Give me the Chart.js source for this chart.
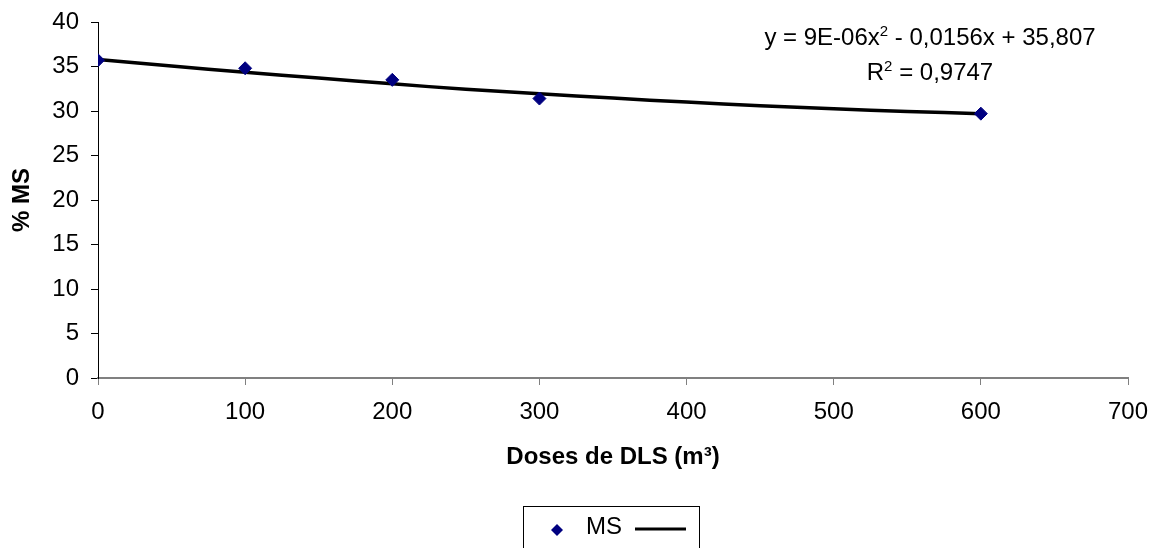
<!DOCTYPE html>
<html lang="pt">
<head>
    <meta charset="UTF-8">
    <title>% MS x Doses de DLS</title>
    <script src="https://cdn.jsdelivr.net/npm/chart.js"></script>
    <style>
        body { margin: 0; padding: 0; background: #fff; }
        .wrap { width: 1156px; height: 548px; }
    </style>
</head>
<body>
    <div class="wrap"><canvas id="myChart"></canvas></div>
    <script>
        // pontos observados (MS)
        const doses = [0, 100, 200, 300, 600];
        const msValues = [35.7, 34.8, 33.5, 31.4, 29.7];
        // linha de tendência
        const trendX = [0, 50, 100, 150, 200, 250, 300, 350, 400, 450, 500, 550, 600];
        const trendY = [35.8, 35.05, 34.35, 33.7, 33.05, 32.45, 31.95, 31.45, 31.0, 30.6, 30.25, 29.95, 29.7];
        // texto da equação: [normal, expoente, normal]
        const eqLine1 = ['y = 9E-06x', '2', ' - 0,0156x + 35,807'];
        const eqLine2 = ['R', '2', ' = 0,9747'];
        const legendLabel = 'MS';

        const font = '"Liberation Sans", Arial, sans-serif';

        // desenha texto com expoente, centrado em cx
        function drawSup(ctx, parts, cx, y) {
            ctx.font = '24px ' + font;
            const w0 = ctx.measureText(parts[0]).width;
            const w2 = ctx.measureText(parts[2]).width;
            ctx.font = '15px ' + font;
            const w1 = ctx.measureText(parts[1]).width;
            let x = cx - (w0 + w1 + w2) / 2;
            ctx.textAlign = 'left';
            ctx.textBaseline = 'alphabetic';
            ctx.font = '24px ' + font;
            ctx.fillText(parts[0], x, y);
            ctx.font = '15px ' + font;
            ctx.fillText(parts[1], x + w0, y - 9);
            ctx.font = '24px ' + font;
            ctx.fillText(parts[2], x + w0 + w1, y);
        }

        const extras = {
            id: 'extras',
            afterDraw(chart) {
                const ctx = chart.ctx;
                ctx.save();
                ctx.fillStyle = '#000';
                drawSup(ctx, eqLine1, 930, 45);
                drawSup(ctx, eqLine2, 930, 80);
                // legenda
                ctx.strokeStyle = '#000';
                ctx.lineWidth = 1;
                ctx.strokeRect(523.5, 506.5, 176, 60);
                ctx.fillStyle = '#000080';
                ctx.beginPath();
                ctx.moveTo(557, 524); ctx.lineTo(563, 530); ctx.lineTo(557, 536); ctx.lineTo(551, 530);
                ctx.closePath(); ctx.fill();
                ctx.fillStyle = '#000';
                ctx.font = '24px ' + font;
                ctx.textAlign = 'left';
                ctx.textBaseline = 'middle';
                ctx.fillText(legendLabel, 586, 527);
                ctx.strokeStyle = '#000';
                ctx.lineWidth = 3;
                ctx.beginPath();
                ctx.moveTo(635, 529); ctx.lineTo(686, 529);
                ctx.stroke();
                ctx.restore();
            }
        };

        new Chart(document.getElementById('myChart'), {
            type: 'scatter',
            data: {
                datasets: [{
                    label: legendLabel,
                    data: doses.map((x, i) => ({ x: x, y: msValues[i] })),
                    pointStyle: 'rectRot',
                    pointRadius: 6.5,
                    backgroundColor: '#000080',
                    borderColor: '#000080',
                    order: 1
                }, {
                    label: 'tendência',
                    type: 'line',
                    data: trendX.map((x, i) => ({ x: x, y: trendY[i] })),
                    borderColor: '#000',
                    borderWidth: 3.5,
                    pointRadius: 0,
                    tension: 0.4,
                    order: 2
                }]
            },
            options: {
                responsive: true,
                maintainAspectRatio: false,
                animation: false,
                layout: { padding: { top: 22, right: 28, bottom: 73, left: 0 } },
                plugins: { legend: { display: false }, tooltip: { enabled: false } },
                scales: {
                    x: {
                        type: 'linear', min: 0, max: 700,
                        ticks: { stepSize: 100, color: '#000', font: { family: font, size: 24 }, padding: 13 },
                        grid: { drawOnChartArea: false, tickLength: 7, color: '#808080' },
                        border: { color: '#808080', width: 2 },
                        title: { display: true, text: 'Doses de DLS (m³)', color: '#000',
                                 font: { family: font, size: 24, weight: 'bold' }, padding: { top: 0, bottom: 3 } },
                        afterFit(scale) {
                            scale.height = 97;
                            scale.paddingLeft = 0;
                            scale.paddingRight = 0;
                        }
                    },
                    y: {
                        min: 0, max: 40,
                        ticks: { stepSize: 5, color: '#000', font: { family: font, size: 24 }, padding: 12 },
                        grid: { drawOnChartArea: false, tickLength: 7, color: '#000' },
                        border: { color: '#000', width: 1 },
                        title: { display: true, text: '% MS', color: '#000',
                                 font: { family: font, size: 24, weight: 'bold' }, padding: { top: 8, bottom: 0 } },
                        afterFit(scale) {
                            scale.width = 98;
                            scale.paddingTop = 0;
                            scale.paddingBottom = 0;
                        }
                    }
                }
            },
            plugins: [extras]
        });
    </script>
</body>
</html>
